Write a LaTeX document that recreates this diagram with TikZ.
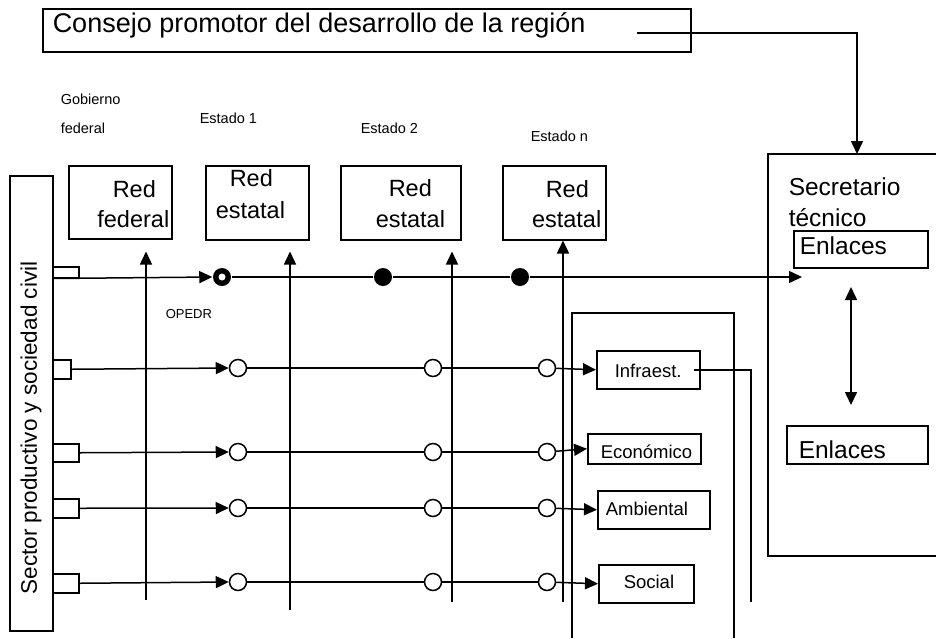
\documentclass[tikz,border=0pt]{standalone}
\usepackage{fontspec}
\setmainfont{Liberation Sans}
\usetikzlibrary{arrows.meta}
\begin{document}
\begin{tikzpicture}[x=1pt,y=-1pt,
  line width=1.5pt,
  tip/.tip={Triangle[length=13pt,width=12pt]},
  arr/.style={-tip},
  darr/.style={tip-tip},
  box/.style={draw,line width=1.5pt,inner sep=0pt,anchor=north west},
  txt/.style={inner sep=0pt,anchor=base west},
  opn/.style={circle,draw,fill=white,minimum size=17pt,inner sep=0pt,line width=1.5pt},
  blk/.style={circle,fill=black,minimum size=18pt,inner sep=0pt},
  big/.style={font=\fontsize{27}{30}\selectfont},
  red/.style={font=\fontsize{23.5}{26}\selectfont},
  sec/.style={font=\fontsize{24.5}{27}\selectfont},
  sml/.style={font=\fontsize{14.5}{16}\selectfont},
  them/.style={font=\fontsize{18.5}{20}\selectfont},
]
\useasboundingbox (0,0) rectangle (936,638);

% boxes
\node[box,minimum width=648pt,minimum height=43pt] (title) at (42,8) {};
\node[box,minimum width=103pt,minimum height=73pt] (redf) at (68,165) {};
\node[box,minimum width=103pt,minimum height=74pt] (red1) at (205,165) {};
\node[box,minimum width=120pt,minimum height=74pt] (red2) at (340,165) {};
\node[box,minimum width=103pt,minimum height=74pt] (redn) at (502,165) {};
\node[box,minimum width=134pt,minimum height=37pt] (enl1) at (793,230) {};
\node[box,minimum width=141pt,minimum height=38pt] (enl2) at (786,425) {};
\node[box,minimum width=103pt,minimum height=38pt] (infra) at (596,350) {};
\node[box,minimum width=113pt,minimum height=30pt] (econ) at (587,433) {};
\node[box,minimum width=112pt,minimum height=38pt] (amb) at (597,490) {};
\node[box,minimum width=95pt,minimum height=38pt] (soc) at (598,564) {};
\node[box,minimum width=43pt,minimum height=455pt] (sector) at (9,175) {};
\node[box,minimum width=26pt,minimum height=11pt] (sq1) at (52,266) {};
\node[box,minimum width=18pt,minimum height=19pt] (sq2) at (52,359) {};
\node[box,minimum width=26pt,minimum height=18pt] (sq3) at (52,443) {};
\node[box,minimum width=26pt,minimum height=19pt] (sq4) at (52,498) {};
\node[box,minimum width=26pt,minimum height=19pt] (sq5) at (52,573) {};

% secretario and thematic frames
\draw (936,154) -- (768,154) -- (768,556) -- (936,556);
\draw (572,638) -- (572,313) -- (734,313) -- (734,638);

% texts
\node[txt,big] (titleT) at (52,32) {Consejo promotor del desarrollo de la región};
\node[txt,sml] (gob) at (60,104) {Gobierno};
\node[txt,sml] (fed) at (60,133) {federal};
\node[txt,sml] (e1) at (199,123) {Estado 1};
\node[txt,sml] (e2) at (360,133) {Estado 2};
\node[txt,sml] (en) at (530,141) {Estado n};
\node[txt,font=\fontsize{13}{15}\selectfont] (op) at (165,318) {OPEDR};

\node[txt,red] (rf1) at (112,197) {Red};
\node[txt,red,anchor=base east] (rf2) at (170,227) {federal};
\node[txt,red] (r11) at (229,186) {Red};
\node[txt,red] (r12) at (215,218) {estatal};
\node[txt,red] (r21) at (388,196) {Red};
\node[txt,red] (r22) at (375,227) {estatal};
\node[txt,red] (rn1) at (545,197) {Red};
\node[txt,red,anchor=base east] (rn2) at (602,227) {estatal};

\node[txt,sec] (s1) at (788,195) {Secretario};
\node[txt,sec] (s2) at (788,226) {técnico};
\node[txt,sec] (en1) at (799,254) {Enlaces};
\node[txt,sec] (en2) at (798,458) {Enlaces};

\node[txt,them] (inT) at (614,377) {Infraest.};
\node[txt,them] (ecT) at (600,458) {Económico};
\node[txt,them] (amT) at (605,515) {Ambiental};
\node[txt,them] (soT) at (623,588) {Social};

\node[rotate=90,inner sep=0pt,font=\fontsize{22.5}{25}\selectfont] (secT) at (31,428) {Sector productivo y sociedad civil};

% markers
\node[blk] (b1) at (222,277) {};
\node[circle,fill=white,minimum size=7pt,inner sep=0pt] (b1in) at (b1) {};
\node[blk] (d2) at (383,277) {};
\node[blk] (d3) at (520,277) {};
\foreach \r/\y in {2/368,3/452,4/508,5/582}{
  \node[opn] (c\r1) at (238,\y) {};
  \node[opn] (c\r2) at (433,\y) {};
  \node[opn] (c\r3) at (547,\y) {};
}

% coordinates
\coordinate (enlIn) at (802,277);
\coordinate (tStart) at (637,33);
\coordinate (secTop) at (857,154);
\coordinate (vA) at (146,600);
\coordinate (vB) at (290,610);
\coordinate (vC) at (452,602);
\coordinate (vD) at (563,602);
\coordinate (infOut) at (751,602);
\coordinate (dA) at (851,287);
\coordinate (dB) at (851,405);

% vertical arrows
\draw[arr,shorten >=12pt] (vA) -- (vA |- redf.south);
\draw[arr,shorten >=11pt] (vB) -- (vB |- red1.south);
\draw[arr,shorten >=11pt] (vC) -- (vC |- red2.south);
\draw[arr] (vD) -- (vD |- redn.south);

% row 1
\draw[arr] (sq1.south west) -- (b1.west);
\draw (b1) -- (d2);
\draw (d2) -- (d3);
\draw[arr] (d3) -- (enlIn);

% rows 2-5
\draw[arr] (sq2.east) -- (c21.west);
\draw[arr] (sq3.east) -- (c31.west);
\draw[arr] (sq4.east) -- (c41.west);
\draw[arr] (sq5.east) -- (c51.west);
\foreach \r in {2,3,4,5}{
  \draw (c\r1) -- (c\r2);
  \draw (c\r2) -- (c\r3);
}
\draw[arr] (c23) -- (infra.west);
\draw[arr] (c33) -- (econ.west);
\draw[arr] (c43) -- (amb.west);
\draw[arr] (c53) -- (soc.west);

\draw ([xshift=-7pt]infra.east) -| (infOut);

% title to secretario
\draw[arr] (tStart) -| (secTop);

% enlaces double arrow
\draw[darr] (dA) -- (dB);
\end{tikzpicture}
\end{document}
